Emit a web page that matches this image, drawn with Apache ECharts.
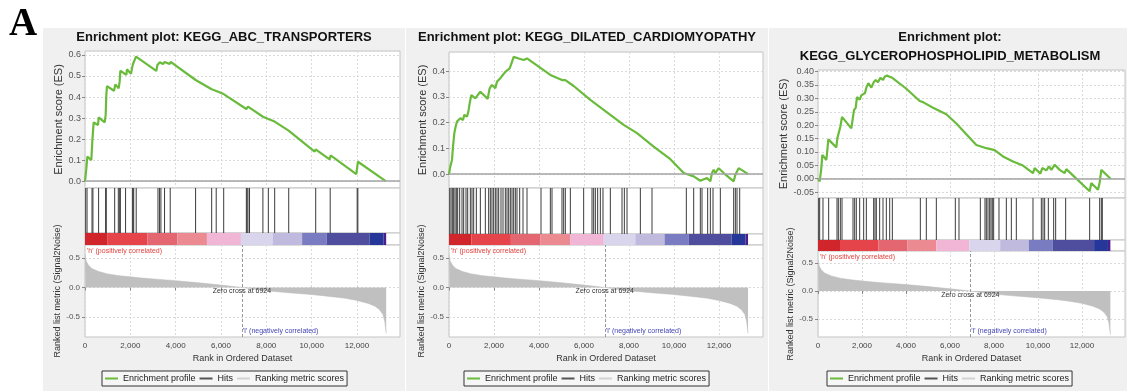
<!DOCTYPE html>
<html>
<head>
<meta charset="utf-8">
<script src="https://cdn.jsdelivr.net/npm/echarts@6/dist/echarts.min.js"></script>
<style>
html, body { margin: 0; padding: 0; background: #fff; }
#myChart { width: 1127px; height: 391px; }
</style>
</head>
<body>
<div id="myChart"></div>
<script>
// ---- data ----
var titles = [
  ['Enrichment plot: KEGG_ABC_TRANSPORTERS'],
  ['Enrichment plot: KEGG_DILATED_CARDIOMYOPATHY'],
  ['Enrichment plot:', 'KEGG_GLYCEROPHOSPHOLIPID_METABOLISM']
];
var legendNames = ['Enrichment profile', 'Hits', 'Ranking metric scores'];
var zeroCross = 6924;

// running enrichment score [rank, ES]
var abcES = [[0, 0], [29, -0.003], [59, 0.06], [103, 0.116], [279, 0.1], [324, 0.19], [382, 0.279], [574, 0.267], [603, 0.303],
  [868, 0.279], [912, 0.314], [941, 0.41], [971, 0.452], [1279, 0.43], [1338, 0.46], [1485, 0.441], [1529, 0.473], [1559, 0.525],
  [1824, 0.505], [1853, 0.532], [2029, 0.51], [2088, 0.544], [2118, 0.557], [2191, 0.549], [2250, 0.592], [3147, 0.524],
  [3191, 0.551], [3294, 0.565], [3441, 0.557], [3515, 0.567], [3735, 0.557], [3779, 0.567], [4882, 0.481], [4912, 0.487],
  [5588, 0.437], [5603, 0.443], [5794, 0.429], [5809, 0.437], [6118, 0.414], [6132, 0.421], [7118, 0.343], [7191, 0.354],
  [7853, 0.306], [7868, 0.314], [8088, 0.295], [8103, 0.303], [8368, 0.283], [8382, 0.29], [8985, 0.24], [9000, 0.248],
  [10132, 0.14], [10176, 0.151], [10794, 0.103], [10838, 0.122], [11971, 0.033], [12044, 0.092], [13270, 0]];
var abcHits = [30, 90, 310, 350, 600, 910, 940, 1310, 1470, 1530, 1560, 1790, 2090, 2120, 2150, 2260, 3220, 3290, 3350,
  3510, 3760, 4880, 5590, 5790, 6120, 7120, 7150, 7190, 7260, 7850, 8090, 8370, 8990, 10180, 10820, 12010, 12040];

var dcmES = [[0, 0], [59, 0.03], [133, 0.055], [178, 0.107], [237, 0.159], [296, 0.185], [356, 0.204], [444, 0.197], [504, 0.217],
  [622, 0.21], [681, 0.23], [800, 0.223], [874, 0.249], [919, 0.275], [993, 0.307], [1170, 0.294], [1393, 0.32], [1719, 0.292],
  [1807, 0.333], [1911, 0.346], [2059, 0.333], [2133, 0.359], [2281, 0.372], [2356, 0.381], [2504, 0.397], [2696, 0.41],
  [2800, 0.436], [2874, 0.455], [3096, 0.449], [3319, 0.443], [3467, 0.449], [3985, 0.417], [4059, 0.41], [4504, 0.385],
  [5022, 0.365], [5170, 0.365], [5541, 0.342], [6281, 0.288], [7170, 0.23], [7763, 0.191], [8356, 0.159], [9096, 0.107],
  [9837, 0.058], [10430, 0.004], [10874, -0.009], [11170, -0.026], [11467, -0.015], [11615, -0.028], [11689, 0.004],
  [11763, 0.017], [11837, 0.004], [11985, 0.023], [12207, 0.004], [12652, -0.028], [12726, -0.003], [12874, 0.023],
  [12948, 0.03], [13300, 0]];
var dcmHits = [30, 89, 148, 207, 267, 326, 385, 474, 578, 652, 756, 830, 948, 1022, 1096, 1215, 1393, 1615, 1763, 1837,
  1911, 1985, 2059, 2133, 2207, 2311, 2400, 2504, 2578, 2652, 2726, 2800, 2874, 2948, 3022, 3141, 3289, 3467, 4089, 4504,
  4578, 5022, 5096, 5170, 5393, 5985, 6356, 6430, 6504, 6607, 6726, 6844, 7170, 7689, 7793, 7911, 8504, 9022, 10548,
  10874, 11170, 11244, 11496, 11615, 11733, 12059, 12652, 12726, 12800, 12919];

var gplES = [[0, 0], [76, -0.01], [121, -0.004], [152, 0.04], [197, 0.089], [379, 0.07], [424, 0.107], [470, 0.147],
  [833, 0.117], [879, 0.151], [955, 0.175], [1015, 0.194], [1091, 0.231], [1515, 0.188], [1636, 0.256], [1712, 0.265],
  [1773, 0.305], [1894, 0.295], [1970, 0.311], [2045, 0.305], [2136, 0.32], [2197, 0.34], [2288, 0.357], [2424, 0.34],
  [2530, 0.36], [2621, 0.369], [2727, 0.36], [2833, 0.377], [2955, 0.369], [3030, 0.381], [3136, 0.385], [3258, 0.381],
  [3379, 0.377], [4015, 0.336], [4621, 0.29], [4773, 0.286], [5227, 0.265], [5833, 0.241], [6288, 0.206], [7197, 0.126],
  [7652, 0.114], [8030, 0.107], [8409, 0.083], [8864, 0.064], [9318, 0.049], [9773, 0.021], [9848, 0.04], [10106, 0.019],
  [10197, 0.04], [10379, 0.031], [10500, 0.046], [10606, 0.033], [10758, 0.052], [10985, 0.033], [11212, 0.021],
  [11288, 0.036], [12348, -0.047], [12424, -0.016], [12727, -0.041], [12803, -0.014], [12879, 0.033], [13300, 0]];
var gplHits = [30, 76, 227, 485, 864, 924, 1015, 1091, 1591, 1667, 1742, 1894, 2076, 2197, 2530, 2591, 2652, 2803, 2955,
  3106, 3258, 3379, 4652, 4924, 5379, 6242, 6409, 7379, 7591, 7652, 7727, 7803, 7864, 7924, 7985, 8227, 8561, 8788, 9015,
  9773, 10152, 10227, 10303, 10470, 10712, 10803, 11258, 12348, 12803, 12879, 12924];

// ranked list metric (Signal2Noise), shared by the three plots
var rankedMetric = [[0, 0.55], [20, 0.5], [60, 0.44], [150, 0.38], [300, 0.32], [600, 0.27], [1000, 0.23], [1500, 0.2],
  [2000, 0.18], [2500, 0.16], [3000, 0.145], [4000, 0.115], [5000, 0.08], [6000, 0.04], [6924, 0], [8000, -0.055],
  [9000, -0.09], [10000, -0.12], [11000, -0.16], [11500, -0.185], [12000, -0.22], [12500, -0.27], [12800, -0.32],
  [13000, -0.38], [13150, -0.46], [13230, -0.58], [13290, -0.78]];

// heat bar blocks along the ranked list (block edges, in rank)
var barEdges = [0, 1000, 2750, 4070, 5380, 6880, 8280, 9580, 10660, 12550, 13180, 13290];

// ---- styles / layout ----
var barColors = ['#d0262b', '#e4444a', '#e46671', '#ec8a91', '#f1b6d6', '#d9d5ec', '#c1badf', '#7a7cc2', '#4f4e9e', '#253899', '#4a1e8c'];
var font = '"Liberation Sans", Arial, sans-serif';
var green = '#6abb3c';
var layouts = [
  { left: 85, right: 400, esTop: 51, esBottom: 188, hitsBottom: 233, barBottom: 245, bottom: 337, xMax: 13900,
    esMin: -0.033, esMax: 0.619, esSplit: 6, digits: 1, mMin: -0.84, mMax: 0.72, esGap: 21, mGap: 23,
    bgLeft: 43, bgRight: 405, titleX: 224, legendLeft: 102 },
  { left: 449, right: 763, esTop: 52, esBottom: 188, hitsBottom: 234, barBottom: 245, bottom: 337, xMax: 13955,
    esMin: -0.054, esMax: 0.474, esSplit: 5, digits: 1, mMin: -0.84, mMax: 0.72, esGap: 21, mGap: 23,
    bgLeft: 406, bgRight: 768, titleX: 587, legendLeft: 464 },
  { left: 818, right: 1125, esTop: 70, esBottom: 198, hitsBottom: 240, barBottom: 251, bottom: 337, xMax: 13955,
    esMin: -0.072, esMax: 0.406, esSplit: 10, digits: 2, mMin: -0.82, mMax: 0.714, esGap: 29, mGap: 21,
    bgLeft: 769, bgRight: 1127, titleX: 950, legendLeft: 827 }
];
var panels = [
  { es: abcES, hits: abcHits },
  { es: dcmES, hits: dcmHits },
  { es: gplES, hits: gplHits }
];

var segments = [];
for (var s = 0; s < barEdges.length - 1; s++) {
  segments.push([barEdges[s], barEdges[s + 1], s]);
}

var chart = echarts.init(document.getElementById('myChart'));
var grids = [], xAxes = [], yAxes = [], series = [], legends = [];
var graphics = [{
  type: 'text', id: 'letterA', left: 9, top: 5,
  style: { text: 'A', font: 'bold 39px "Liberation Serif", "Times New Roman", serif', fill: '#000' }
}];

var dashed = { color: '#dadada', type: [2, 2], width: 1 };

panels.forEach(function (p, i) {
  var L = layouts[i];
  var g0 = i * 4;
  var rows = [[L.esTop, L.esBottom], [L.esBottom, L.hitsBottom], [L.hitsBottom, L.barBottom], [L.barBottom, L.bottom]];
  rows.forEach(function (r, k) {
    grids.push({
      left: L.left, top: r[0], width: L.right - L.left, height: r[1] - r[0],
      show: true, backgroundColor: '#fff', borderColor: '#c4c4c4', borderWidth: 1, outerBoundsMode: 'none'
    });
    var isBottom = k === 3;
    xAxes.push({
      type: 'value', gridIndex: g0 + k, min: 0, max: L.xMax, interval: 2000,
      axisLine: { show: false },
      axisTick: { show: isBottom, length: 3, lineStyle: { color: '#888' } },
      axisLabel: {
        show: isBottom, fontSize: 8, color: '#444', fontFamily: font, margin: 5, showMaxLabel: false,
        formatter: function (v) { return v.toLocaleString('en-US'); }
      },
      splitLine: { show: k === 0 || k === 3, lineStyle: dashed },
      name: isBottom ? 'Rank in Ordered Dataset' : '', nameLocation: 'middle', nameGap: 17,
      nameTextStyle: { fontSize: 9, color: '#333', fontFamily: font }
    });
  });

  // y axes: ES, hits, heat bar, metric
  yAxes.push({
    type: 'value', gridIndex: g0, min: L.esMin, max: L.esMax, splitNumber: L.esSplit,
    axisLine: { show: false },
    axisTick: { show: true, length: 3, lineStyle: { color: '#888' } },
    axisLabel: {
      fontSize: 9, color: '#555', fontFamily: font, margin: 4, showMinLabel: false, showMaxLabel: false,
      formatter: function (v) { return v.toFixed(L.digits); }
    },
    splitLine: { show: true, lineStyle: dashed },
    name: 'Enrichment score (ES)', nameLocation: 'middle', nameGap: L.esGap,
    nameTextStyle: { fontSize: 11, color: '#333', fontFamily: font }
  });
  yAxes.push({ type: 'value', gridIndex: g0 + 1, min: 0, max: 1, show: false });
  yAxes.push({ type: 'value', gridIndex: g0 + 2, min: 0, max: 1, show: false });
  yAxes.push({
    type: 'value', gridIndex: g0 + 3, min: L.mMin, max: L.mMax, splitNumber: 3,
    axisLine: { show: false },
    axisTick: { show: true, length: 3, lineStyle: { color: '#888' } },
    axisLabel: {
      fontSize: 8, color: '#555', fontFamily: font, margin: 5, showMinLabel: false, showMaxLabel: false,
      formatter: function (v) { return v.toFixed(1); }
    },
    splitLine: { show: true, lineStyle: dashed },
    name: 'Ranked list metric (Signal2Noise)', nameLocation: 'middle', nameGap: L.mGap,
    nameTextStyle: { fontSize: 9, color: '#333', fontFamily: font }
  });

  series.push({
    name: 'Enrichment profile', type: 'line', xAxisIndex: g0, yAxisIndex: g0, data: p.es,
    symbol: 'none', color: green, lineStyle: { width: 2.2, color: green }, z: 4,
    markLine: {
      silent: true, symbol: ['none', 'none'], label: { show: false },
      lineStyle: { color: '#a4a4a4', width: 1.5, type: 'solid' }, data: [{ yAxis: 0 }]
    }
  });
  series.push({
    name: 'Hits', type: 'custom', xAxisIndex: g0 + 1, yAxisIndex: g0 + 1,
    data: p.hits.map(function (r) { return [r, 0]; }),
    color: '#555', itemStyle: { color: '#555' },
    renderItem: function (params, api) {
      var a = api.coord([api.value(0), 0]);
      var b = api.coord([api.value(0), 1]);
      return { type: 'line', shape: { x1: a[0], y1: a[1], x2: b[0], y2: b[1] }, style: { stroke: '#3c3c3c', lineWidth: 1 } };
    }
  });
  series.push({
    name: 'heat', type: 'custom', xAxisIndex: g0 + 2, yAxisIndex: g0 + 2, silent: true, data: segments,
    renderItem: function (params, api) {
      var a = api.coord([api.value(0), 1]);
      var b = api.coord([api.value(1), 0]);
      return { type: 'rect', shape: { x: a[0], y: a[1], width: b[0] - a[0], height: b[1] - a[1] }, style: { fill: barColors[api.value(2)] } };
    }
  });
  series.push({
    name: 'Ranking metric scores', type: 'line', xAxisIndex: g0 + 3, yAxisIndex: g0 + 3, data: rankedMetric,
    symbol: 'none', color: '#d2d2d2', lineStyle: { width: 0.5, color: '#b8b8b8' },
    areaStyle: { color: '#c0c0c0', opacity: 1 },
    markLine: {
      silent: true, symbol: ['none', 'none'], label: { show: false },
      lineStyle: { color: '#999', width: 1, type: [3, 2] }, data: [{ xAxis: zeroCross }]
    }
  });

  legends.push({
    left: L.legendLeft, top: 371, data: legendNames, icon: 'rect', itemWidth: 13, itemHeight: 2, itemGap: 4,
    padding: [3, 3], borderColor: '#333', borderWidth: 1, backgroundColor: '#f6f6f6', selectedMode: false,
    textStyle: { fontSize: 9, color: '#222', fontFamily: font }
  });

  // panel background and title
  graphics.push({
    type: 'rect', id: 'bg' + i, z: -10, silent: true,
    shape: { x: L.bgLeft, y: 28, width: L.bgRight - L.bgLeft, height: 363 },
    style: { fill: '#f0f0f0' }
  });
  titles[i].forEach(function (t, j) {
    graphics.push({
      type: 'text', id: 'title' + i + '_' + j, z: 10,
      style: { text: t, x: L.titleX, y: 37 + j * 19, align: 'center', verticalAlign: 'middle', font: 'bold 13px ' + font, fill: '#111' }
    });
  });
});

chart.setOption({
  animation: false,
  backgroundColor: '#fff',
  grid: grids, xAxis: xAxes, yAxis: yAxes, series: series, legend: legends, graphic: graphics
});

// annotations of the ranked list plot, placed through the axes
var notes = [];
layouts.forEach(function (L, i) {
  var gi = i * 4 + 3;
  var top = chart.convertToPixel({ gridIndex: gi }, [0, L.mMax]);
  var zero = chart.convertToPixel({ gridIndex: gi }, [zeroCross, 0]);
  var bot = chart.convertToPixel({ gridIndex: gi }, [zeroCross, L.mMin]);
  notes.push({ type: 'text', id: 'pos' + i, z: 10, style: { text: "'h' (positively correlated)", x: top[0] + 2, y: top[1] + 6, verticalAlign: 'middle', font: '7px ' + font, fill: '#e2403c' } });
  notes.push({ type: 'text', id: 'zc' + i, z: 10, style: { text: 'Zero cross at ' + zeroCross, x: zero[0], y: zero[1] + 4, align: 'center', verticalAlign: 'middle', font: '7px ' + font, fill: '#333' } });
  notes.push({ type: 'text', id: 'neg' + i, z: 10, style: { text: "'l' (negatively correlated)", x: bot[0] + 1, y: bot[1] - 6, verticalAlign: 'middle', font: '7px ' + font, fill: '#4446b4' } });
});
chart.setOption({ graphic: notes });
</script>
</body>
</html>
